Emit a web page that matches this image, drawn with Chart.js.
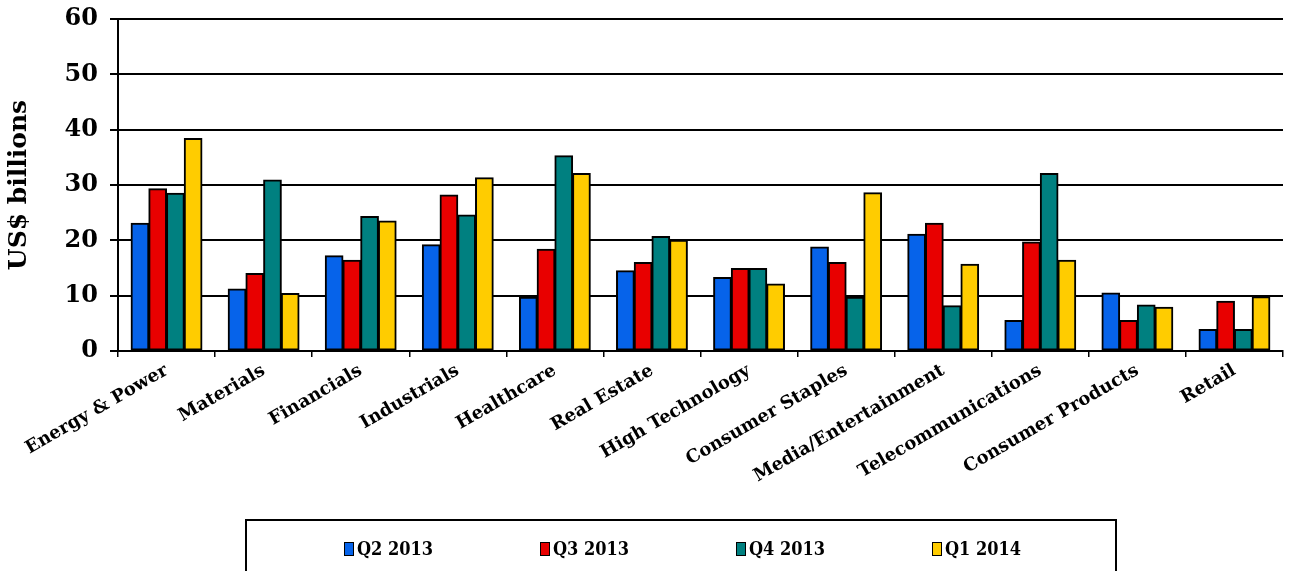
<!DOCTYPE html>
<html>
<head>
<meta charset="utf-8">
<script src="https://cdn.jsdelivr.net/npm/chart.js@4.4.0/dist/chart.umd.min.js"></script>
<style>
  html, body { margin: 0; padding: 0; background: #fff; }
  #wrap { position: relative; width: 1290px; height: 571px; overflow: hidden; }
  #legend {
    position: absolute; left: 245px; top: 519px; width: 872px; height: 70px;
    border: 2px solid #000; box-sizing: border-box;
    font-family: "DejaVu Serif", serif; font-weight: bold; font-stretch: condensed;
    font-size: 18px; color: #000;
  }
  #legend .item { position: absolute; top: 17px; display: flex; align-items: center; }
  #legend .sw { width: 8px; height: 12px; border: 1.5px solid #000; margin-right: 3px; }
</style>
</head>
<body>
<div id="wrap">
  <canvas id="chart" width="1290" height="571"></canvas>
  <div id="legend"></div>
</div>
<script>
const categorias = ["Energy & Power", "Materials", "Financials", "Industrials", "Healthcare", "Real Estate",
  "High Technology", "Consumer Staples", "Media/Entertainment", "Telecommunications", "Consumer Products", "Retail"];

const q2_2013 = [23.1, 11.2, 17.2, 19.2, 9.7, 14.5, 13.3, 18.8, 21.1, 5.5, 10.5, 3.9];
const q3_2013 = [29.3, 14.0, 16.4, 28.2, 18.4, 16.0, 14.9, 16.0, 23.1, 19.7, 5.5, 9.0];
const q4_2013 = [28.5, 30.9, 24.3, 24.6, 35.3, 20.7, 14.9, 9.7, 8.2, 32.1, 8.3, 3.9];
const q1_2014 = [38.4, 10.4, 23.5, 31.3, 32.1, 20.0, 12.1, 28.6, 15.7, 16.4, 7.9, 9.8];

const series = ["Q2 2013", "Q3 2013", "Q4 2013", "Q1 2014"];
const cores = ["#0663EA", "#E80000", "#008080", "#FFCC00"];
const yTicks = [0, 10, 20, 30, 40, 50, 60];

const fonte = "'DejaVu Serif', serif";

const datasets = [q2_2013, q3_2013, q4_2013, q1_2014].map((d, i) => ({
  label: series[i],
  data: d,
  backgroundColor: cores[i],
  borderColor: "#000",
  borderWidth: 2,
  borderSkipped: false,
  inflateAmount: 0.5,
  categoryPercentage: 0.73,
  barPercentage: 1.0
}));

const ctx = document.getElementById("chart").getContext("2d");
const chart = new Chart(ctx, {
  type: "bar",
  data: { labels: categorias, datasets },
  options: {
    responsive: false,
    animation: false,
    layout: { padding: { left: 4, right: 7, top: 19, bottom: 0 } },
    plugins: { legend: { display: false }, tooltip: { enabled: false } },
    scales: {
      x: {
        offset: true,
        grid: { offset: true, drawOnChartArea: false, drawTicks: true, tickLength: 6, color: "#000", lineWidth: 1.5 },
        border: { color: "#000", width: 2 },
        ticks: {
          color: "#000", maxRotation: 30, minRotation: 30, padding: 3, autoSkip: false,
          font: { family: fonte, weight: "bold", size: 18 }
        },
        afterFit(scale) { scale.height = 220; }
      },
      y: {
        min: 0, max: 60,
        afterBuildTicks(scale) { scale.ticks = yTicks.map(v => ({ value: v })); },
        grid: { color: "#000", lineWidth: 2, tickLength: 8 },
        border: { color: "#000", width: 2 },
        ticks: { color: "#000", padding: 12, font: { family: fonte, weight: "bold", size: 24 } },
        title: {
          display: true, text: "US$ billions", color: "#000", padding: { top: 0, bottom: 0 },
          font: { family: fonte, weight: "bold", size: 25 }
        },
        afterFit(scale) {
          scale.width = 114;
          scale.paddingTop = 0;
          scale.paddingBottom = 0;
        }
      }
    }
  }
});

// legenda em HTML, caixa com borda como no original
const legend = document.getElementById("legend");
chart.data.datasets.forEach((ds, i) => {
  const item = document.createElement("div");
  item.className = "item";
  item.style.left = (97 + i * 196) + "px";
  item.innerHTML = `<span class="sw" style="background:${ds.backgroundColor}"></span>${ds.label}`;
  legend.appendChild(item);
});
</script>
</body>
</html>
